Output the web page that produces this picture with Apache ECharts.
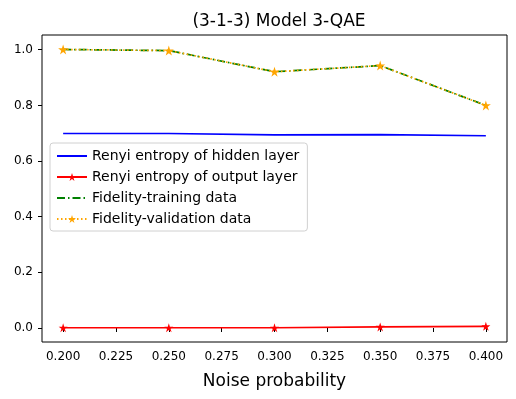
<!DOCTYPE html>
<html>
<head>
<meta charset="utf-8">
<script src="https://cdn.jsdelivr.net/npm/echarts@6/dist/echarts.min.js"></script>
<style>
  html, body { margin: 0; padding: 0; background: #fff; }
  #chart { width: 516px; height: 399px; }
</style>
</head>
<body>
<div id="chart"></div>
<script>
// values
const noise = [0.2, 0.25, 0.3, 0.35, 0.4];
const hiddenEntropy = [0.699, 0.699, 0.694, 0.695, 0.691];
const outputEntropy = [0.001, 0.001, 0.001, 0.004, 0.006];
const fidelityTrain = [1.001, 0.997, 0.921, 0.943, 0.800];
const fidelityValid = [1.001, 0.997, 0.921, 0.943, 0.800];
const xTicks = [0.2, 0.225, 0.25, 0.275, 0.3, 0.325, 0.35, 0.375, 0.4];
const yTicks = [0, 0.2, 0.4, 0.6, 0.8, 1.0];

const star = 'path://M100,0 L122.45,69.1 L195.1,69.1 L136.3,111.8 L158.8,180.9 L100,138.2 L41.2,180.9 L63.7,111.8 L4.9,69.1 L77.55,69.1 Z';
const font = 'DejaVu Sans';

function pairs(ys) {
    return noise.map((x, i) => [x, ys[i]]);
}

const chart = echarts.init(document.getElementById('chart'));
chart.setOption({
    animation: false,
    backgroundColor: '#fff',
    textStyle: { fontFamily: font },
    title: {
        text: '(3-1-3) Model 3-QAE',
        left: 274, top: 8, textAlign: 'center',
        textStyle: { fontFamily: font, fontSize: 17, fontWeight: 'normal', color: '#000' }
    },
    grid: {
        left: 42, right: 9, top: 35, bottom: 57,
        show: true, borderColor: '#000', borderWidth: 1
    },
    legend: {
        orient: 'vertical',
        left: 50, top: 143,
        itemWidth: 30, itemHeight: 10, itemGap: 7,
        padding: [6, 8, 5, 6],
        borderColor: '#d0d0d0', borderWidth: 1, borderRadius: 3,
        backgroundColor: 'rgba(255,255,255,0.8)',
        textStyle: { fontFamily: font, fontSize: 14, color: '#000' },
        data: [
            // series without markers: hide the legend marker, keep the line
            { name: 'Renyi entropy of hidden layer', itemStyle: { opacity: 0 } },
            'Renyi entropy of output layer',
            { name: 'Fidelity-training data', itemStyle: { opacity: 0 } },
            'Fidelity-validation data'
        ]
    },
    xAxis: {
        type: 'value',
        min: 0.19, max: 0.41,
        name: 'Noise probability',
        nameLocation: 'middle', nameGap: 31,
        nameTextStyle: { fontFamily: font, fontSize: 17, color: '#000' },
        splitLine: { show: false },
        axisLine: { show: false },
        axisTick: { show: true, length: 4, customValues: xTicks, lineStyle: { color: '#000' } },
        axisLabel: {
            customValues: xTicks, margin: 9,
            fontFamily: font, fontSize: 12, color: '#000',
            formatter: v => v.toFixed(3)
        }
    },
    yAxis: {
        type: 'value',
        min: -0.0503, max: 1.053,
        splitLine: { show: false },
        axisLine: { show: false },
        axisTick: { show: true, length: 4, customValues: yTicks, lineStyle: { color: '#000' } },
        axisLabel: {
            customValues: yTicks, margin: 9,
            fontFamily: font, fontSize: 12, color: '#000',
            formatter: v => v.toFixed(1)
        }
    },
    series: [
        {
            name: 'Renyi entropy of hidden layer',
            type: 'line',
            data: pairs(hiddenEntropy),
            showSymbol: false, symbol: 'none',
            lineStyle: { color: '#0000ff', width: 1.7 },
            itemStyle: { color: '#0000ff' }
        },
        {
            name: 'Renyi entropy of output layer',
            type: 'line',
            data: pairs(outputEntropy),
            symbol: star, symbolSize: 9,
            lineStyle: { color: '#ff0000', width: 1.7 },
            itemStyle: { color: '#ff0000' }
        },
        {
            name: 'Fidelity-training data',
            type: 'line',
            data: pairs(fidelityTrain),
            symbol: 'none',
            lineStyle: { color: '#008000', width: 1.7, type: [8, 3, 1.5, 3] },
            itemStyle: { color: '#008000' }
        },
        {
            name: 'Fidelity-validation data',
            type: 'line',
            data: pairs(fidelityValid),
            symbol: star, symbolSize: 10,
            lineStyle: { color: '#ffa500', width: 1.7, type: [1.5, 2.5] },
            itemStyle: { color: '#ffa500' }
        }
    ]
});
</script>
</body>
</html>
